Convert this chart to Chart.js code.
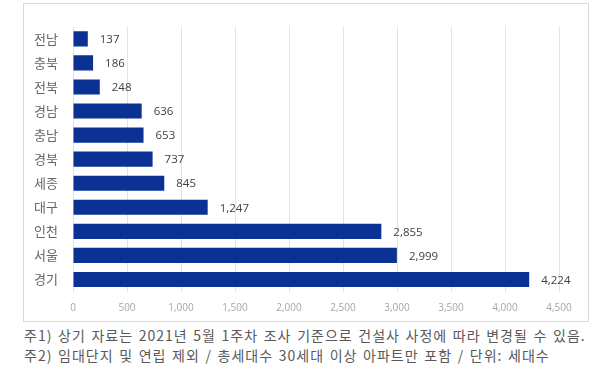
<!DOCTYPE html>
<html>
<head>
<meta charset="utf-8">
<script src="https://cdn.jsdelivr.net/npm/chart.js@4/dist/chart.umd.min.js"></script>
<style>
  body { margin: 0; background: #fff; width: 606px; height: 375px; overflow: hidden; }
  .box { position: absolute; left: 23px; top: 3px; width: 564px; height: 317px; border: 1px solid #d9d9d9; }
  .notes { position: absolute; left: 24px; top: 325px; font-family: "Noto Sans CJK KR", sans-serif; font-size: 14px; letter-spacing: 1px; word-spacing: 1.5px; color: #595959; line-height: 20px; white-space: nowrap; }
</style>
</head>
<body>
<div class="box"><canvas id="regionChart"></canvas></div>
<div class="notes">
  <div>주1) 상기 자료는 2021년 5월 1주차 조사 기준으로 건설사 사정에 따라 변경될 수 있음.</div>
  <div>주2) 임대단지 및 연립 제외 / 총세대수 30세대 이상 아파트만 포함 / 단위: 세대수</div>
</div>
<script>
// Chart data
const regions = ["전남", "충북", "전북", "경남", "충남", "경북", "세종", "대구", "인천", "서울", "경기"];
const households = [137, 186, 248, 636, 653, 737, 845, 1247, 2855, 2999, 4224];
const xTicks = [0, 500, 1000, 1500, 2000, 2500, 3000, 3500, 4000, 4500];

// value labels at the end of each bar
const valueLabels = {
  id: "valueLabels",
  afterDatasetsDraw(chart) {
    const ctx = chart.ctx;
    const meta = chart.getDatasetMeta(0);
    ctx.save();
    ctx.font = "11.5px 'Open Sans', sans-serif";
    ctx.fillStyle = "#404040";
    ctx.textAlign = "left";
    ctx.textBaseline = "middle";
    meta.data.forEach((bar, i) => {
      ctx.fillText(households[i].toLocaleString("en-US"), bar.x + 12, bar.y + 1);
    });
    ctx.restore();
  },
};

const ctx = document.getElementById("regionChart").getContext("2d");
const chart = new Chart(ctx, {
  type: "bar",
  data: {
    labels: regions,
    datasets: [
      {
        data: households,
        backgroundColor: "#0a3193",
        barPercentage: 0.63,
        categoryPercentage: 1,
      },
    ],
  },
  options: {
    indexAxis: "y",
    responsive: true,
    maintainAspectRatio: false,
    animation: false,
    layout: {
      padding: { top: 14, right: 29, left: 0, bottom: 0 },
    },
    plugins: {
      legend: { display: false },
      tooltip: { enabled: false },
    },
    scales: {
      x: {
        min: 0,
        max: 4500,
        afterBuildTicks: (scale) => {
          scale.ticks = xTicks.map((v) => ({ value: v }));
        },
        afterFit: (scale) => {
          scale.height = 29.5;
        },
        grid: {
          color: "#e3e3e3",
          drawTicks: false,
        },
        border: { display: false },
        ticks: {
          padding: 11,
          color: "#a6a6a6",
          font: { family: "'Open Sans', sans-serif", size: 10 },
          callback: (v) => v.toLocaleString("en-US"),
        },
      },
      y: {
        afterFit: (scale) => {
          scale.width = 49;
        },
        grid: { display: false, drawTicks: false },
        border: { display: false },
        ticks: {
          padding: 15,
          color: "#666666",
          font: { family: "'Noto Sans CJK KR', sans-serif", size: 13 },
        },
      },
    },
  },
  plugins: [valueLabels],
});
</script>
</body>
</html>
